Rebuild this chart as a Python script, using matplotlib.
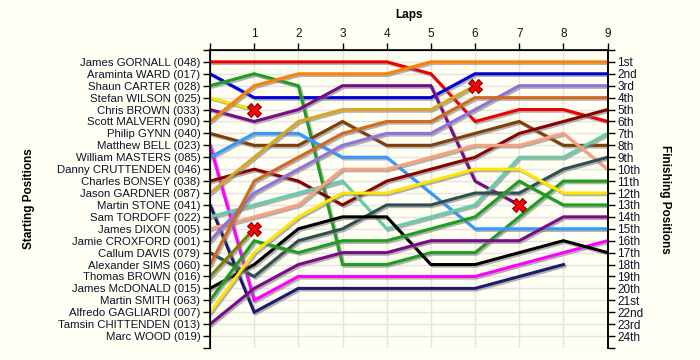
import numpy as np
import matplotlib.pyplot as plt
import matplotlib.patheffects as pe

plt.rcParams['font.family'] = ['Liberation Sans', 'DejaVu Sans']

drivers = ['James GORNALL (048)', 'Araminta WARD (017)', 'Shaun CARTER (028)',
           'Stefan WILSON (025)', 'Chris BROWN (033)', 'Scott MALVERN (090)',
           'Philip GYNN (040)', 'Matthew BELL (023)', 'William MASTERS (085)',
           'Danny CRUTTENDEN (046)', 'Charles BONSEY (038)', 'Jason GARDNER (087)',
           'Martin STONE (041)', 'Sam TORDOFF (022)', 'James DIXON (005)',
           'Jamie CROXFORD (001)', 'Callum DAVIS (079)', 'Alexander SIMS (060)',
           'Thomas BROWN (016)', 'James McDONALD (015)', 'Martin SMITH (063)',
           'Alfredo GAGLIARDI (007)', 'Tamsin CHITTENDEN (013)', 'Marc WOOD (019)']

finish_labels = ['1st', '2nd', '3rd', '4th', '5th', '6th', '7th', '8th', '9th', '10th',
                 '11th', '12th', '13th', '14th', '15th', '16th', '17th', '18th', '19th',
                 '20th', '21st', '22nd', '23rd', '24th']

# positions per lap (lap 0 = grid); retired = driver stopped with a red cross
gornall = [1, 1, 1, 1, 1, 2, 6, 5, 5, 6]
ward = [2, 4, 4, 4, 4, 4, 2, 2, 2, 2]
carter = [3, 2, 3, 18, 18, 17, 17, 14, 11, 11]
wilson = [4, 5]
c_brown = [5, 6, 5, 3, 3, 3, 11, 13]
malvern = [6, 3, 2, 2, 2, 1, 1, 1, 1, 1]
gynn = [7, 8, 8, 6, 8, 8, 7, 6, 8, 8]
bell = [8, 21, 19, 19, 19, 19, 19, 18, 17, 16]
masters = [9, 7, 7, 9, 9, 12, 15, 15, 15, 15]
bonsey = [11, 10, 11, 13, 11, 10, 9, 7, 6, 5]
gardner = [12, 9, 6, 5, 5, 5, 3]
stone = [13, 22, 20, 20, 20, 20, 20, 19, 18]
tordoff = [14, 13, 12, 11, 15, 14, 13, 9, 9, 7]
dixon = [15, 14, 13, 10, 10, 9, 8, 8, 7, 10]
croxford = [16, 12, 10, 8, 7, 7, 5, 3, 3, 3]
davis = [17, 19, 16, 15, 13, 13, 12, 12, 10, 9]
sims = [18, 11, 9, 7, 6, 6, 4, 4, 4, 4]
t_brown = [19, 15]
mcdonald = [20, 18, 15, 14, 14, 18, 18, 17, 16, 17]
smith = [21, 16, 17, 16, 16, 15, 14, 11, 13, 13]
gagliardi = [22, 17, 14, 12, 12, 11, 10, 10, 12, 12]
chittenden = [23, 20, 18, 17, 17, 16, 16, 16, 14, 14]

series = [
    (gornall, '#EE0000', False),
    (ward, '#0000DD', False),
    (carter, '#1E9E1E', False),
    (wilson, '#F2E600', True),
    (c_brown, '#7A0A8A', True),
    (malvern, '#FF8000', False),
    (gynn, '#7F3F0A', False),
    (bell, '#FF00FF', False),
    (masters, '#3399FF', False),
    (bonsey, '#8B0000', False),
    (gardner, '#DAA520', True),
    (stone, '#1C1C6E', False),
    (tordoff, '#66CDAA', False),
    (dixon, '#F9A07E', False),
    (croxford, '#9370DB', False),
    (davis, '#2F4F4F', False),
    (sims, '#D2691E', False),
    (t_brown, '#808000', True),
    (mcdonald, '#000000', False),
    (smith, '#1E9E1E', False),
    (gagliardi, '#FFE600', False),
    (chittenden, '#7A0A8A', False),
]

bg = '#FFFEF2'
fig = plt.figure(figsize=(7, 3.6), dpi=100, facecolor=bg)
ax = fig.add_axes([0.3, 0.0333, 0.568, 0.828])
ax.set_facecolor(bg)

shadow = [pe.SimpleLineShadow(offset=(1.2, -1.2), shadow_color='#808080', alpha=0.6),
          pe.Normal()]

for pos, color, retired in series:
    laps = np.arange(len(pos))
    ax.plot(laps, pos, color=color, linewidth=2.2, solid_joinstyle='miter',
            path_effects=shadow, zorder=3)
    if retired:
        ax.plot(laps[-1], pos[-1], marker='X', markersize=10, color='#FF0000',
                markeredgecolor='#800000', markeredgewidth=0.8, zorder=5)

ax.set_xlim(0, 9)
ax.set_ylim(25, 0)

ax.set_xticks(range(10))
ax.set_xticklabels([''] + [str(i) for i in range(1, 10)])
ax.xaxis.tick_top()
ax.set_yticks(range(26))
ax.set_yticklabels([''] + drivers + [''])

ax.grid(True, color='#E4E4E4', linewidth=1, zorder=0)
ax.set_axisbelow(True)
ax.spines['bottom'].set_visible(False)
for s in ['left', 'top', 'right']:
    ax.spines[s].set_linewidth(1.2)
ax.tick_params(axis='both', direction='out', length=5, width=1, labelsize=8.2,
               colors='#000000', labelcolor='#101030', pad=2)
ax.tick_params(axis='x', bottom=False, top=True, labelsize=8.5)

ax2 = ax.twinx()
ax2.set_ylim(25, 0)
ax2.set_yticks(range(26))
ax2.set_yticklabels([''] + finish_labels + [''])
ax2.spines['bottom'].set_visible(False)
ax2.spines['right'].set_linewidth(1.2)
ax2.tick_params(axis='y', direction='out', length=5, width=1, labelsize=8.5,
                labelcolor='#101030', pad=2)

ax.set_xlabel('Laps', fontweight='bold', fontsize=8.5)
ax.xaxis.set_label_position('top')
ax.xaxis.set_label_coords(0.5, 1.107)
ax.set_ylabel('Starting Positions', fontweight='bold', fontsize=8.5)
ax.yaxis.set_label_coords(-0.44, 0.5)
ax2.set_ylabel('Finishing Positions', fontweight='bold', fontsize=8.5, rotation=270)
ax2.yaxis.set_label_coords(1.16, 0.5)

fig.savefig('out.png', dpi=100, facecolor=bg)
